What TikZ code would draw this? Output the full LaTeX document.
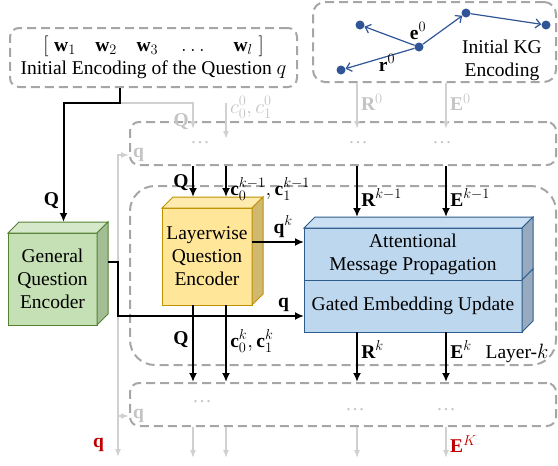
\documentclass[tikz,border=0pt]{standalone}
\usepackage{fontspec}
\setmainfont{Liberation Serif}
\usetikzlibrary{arrows.meta,calc,positioning}

\definecolor{dashgray}{HTML}{A6A6A6}
\definecolor{fadegray}{HTML}{D0D0D0}
\definecolor{fadetext}{HTML}{C4C4C4}
\definecolor{kgblue}{HTML}{2F5597}
\definecolor{frontgreen}{HTML}{C5E0B4}
\definecolor{topgreen}{HTML}{D5E8C9}
\definecolor{sidegreen}{HTML}{A3BE95}
\definecolor{linegreen}{HTML}{548235}
\definecolor{frontyellow}{HTML}{FFE699}
\definecolor{topyellow}{HTML}{FFEBAD}
\definecolor{sideyellow}{HTML}{D1B870}
\definecolor{lineyellow}{HTML}{BF9000}
\definecolor{frontblue}{HTML}{BDD7EE}
\definecolor{topblue}{HTML}{CADFF2}
\definecolor{sideblue}{HTML}{97AAC0}
\definecolor{lineblue}{HTML}{2E5C8A}
\definecolor{darkred}{HTML}{C00000}

\begin{document}
\begin{tikzpicture}[x=1pt, y=-1pt, font=\fontsize{19.5}{23}\selectfont, >={Latex[length=9pt,width=8pt]},
    dash box/.style={draw=dashgray, line width=2pt, dash pattern=on 9pt off 5pt, rounded corners=9pt, inner sep=0pt},
    block/.style={draw, line width=1pt, align=center, inner sep=0pt, outer sep=0pt},
    feed/.style={->, line width=2pt},
    faded/.style={->, draw=fadegray, line width=1.5pt, >={Latex[length=8pt,width=6pt]}},
    kg dot/.style={circle, fill=kgblue, inner sep=0pt, minimum size=9pt},
    kg edge/.style={->, draw=kgblue, line width=1.2pt, >={Straight Barb[length=5pt,width=9pt]}}]

    \useasboundingbox (0,0) rectangle (558,466);

    % inputs
    \node[dash box, minimum width=287pt, minimum height=59pt, align=center] at (153.5,57.5) (qenc)
        {$[\;\mathbf{w}_1\quad\mathbf{w}_2\quad\mathbf{w}_3\quad\dots\quad\;\mathbf{w}_l\;]$\\Initial Encoding of the Question $q$};
    \node[dash box, rounded corners=12pt, minimum width=243pt, minimum height=80pt] at (434.5,42) (kg) {};
    \node[align=center] at (502,60) (kgtext) {Initial KG\\Encoding};

    \node[kg dot] at (360,25) (ea) {};
    \node[kg dot] at (419,47) (ec) {};
    \node[kg dot] at (466,13) (et) {};
    \node[kg dot] at (546,25) (er) {};
    \node[kg dot] at (341,70) (eb) {};
    \path[kg edge] (ec) edge (ea);
    \path[kg edge] (ec) edge (eb);
    \path[kg edge] (ec) edge (et);
    \path[kg edge] (et) edge (er);
    \node at (418,31) (elbl) {$\mathbf{e}^0$};
    \node at (387,63) (rlbl) {$\mathbf{r}^0$};

    % layers
    \node[dash box, minimum width=426pt, minimum height=43pt] at (343,143.5) (prev) {};
    \node[dash box, rounded corners=25pt, minimum width=426pt, minimum height=179pt] at (343,275.5) (layerk) {};
    \node[dash box, minimum width=426pt, minimum height=43pt] at (343,404.5) (next) {};
    \node at (517,353) (layerlbl) {Layer-$k$};

    \node[text=fadetext] at (200,143) (d1) {\dots};
    \node[text=fadetext] at (358,143) (d2) {\dots};
    \node[text=fadetext] at (442,143) (d3) {\dots};
    \node[text=fadetext] at (202,402) (d4) {\dots};
    \node[text=fadetext] at (355,410) (d5) {\dots};
    \node[text=fadetext] at (446,410) (d6) {\dots};

    % encoders
    \node[block, draw=linegreen, fill=frontgreen, minimum width=89pt, minimum height=92pt] at (52.5,279) (gqe) {General\\Question\\Encoder};
    \node[block, draw=lineyellow, fill=frontyellow, minimum width=90pt, minimum height=97pt] at (207,256.5) (lqe) {Layerwise\\Question\\Encoder};
    \node[block, draw=lineblue, fill=frontblue, minimum width=218pt, minimum height=52pt] at (413,254) (amp) {Attentional\\Message Propagation};
    \node[block, draw=lineblue, fill=frontblue, minimum width=218pt, minimum height=52pt] at (413,306) (geu) {Gated Embedding Update};

    \foreach \blk/\col in {gqe/green, lqe/yellow, amp/blue}
        \draw[line width=1pt, draw=line\col, fill=top\col] (\blk.north west) -- ++(11,-11) -- ([shift={(11,-11)}]\blk.north east) -- (\blk.north east) -- cycle;
    \foreach \blk/\col in {gqe/green, lqe/yellow, amp/blue, geu/blue}
        \draw[line width=1pt, draw=line\col, fill=side\col] (\blk.north east) -- ++(11,-11) -- ([shift={(11,-11)}]\blk.south east) -- (\blk.south east) -- cycle;

    \coordinate (colQ) at (193,0);
    \coordinate (colC) at (226,0);
    \coordinate (colR) at (357,0);
    \coordinate (colE) at (446,0);
    \coordinate (qsplit) at (120,103);
    \coordinate (c0src) at (226,103);
    \coordinate (qtop) at (118,155);
    \coordinate (qbus) at (118,316);
    \coordinate (qnext) at (118,416);
    \coordinate (qbot) at (118,457);
    \coordinate (bot) at (0,458);

    % faded connectors
    \draw[faded] (qsplit) -| node[pos=0.85, left, text=fadetext] {$\mathbf{Q}$} ($(prev.north -| colQ)+(0,8)$);
    \draw[faded] (c0src) -- node[pos=0.12, right, text=fadetext] {$c_0^0, c_1^0$} ($(prev.north -| colC)+(0,18)$);
    \draw[faded] (kg.south -| colR) -- node[pos=0.42, right, text=fadetext] {$\mathbf{R}^0$} ($(prev.north -| colR)+(0,8)$);
    \draw[faded] (kg.south -| colE) -- node[pos=0.42, right, text=fadetext] {$\mathbf{E}^0$} ($(prev.north -| colE)+(0,8)$);
    \draw[faded, <->] (qbot) |- node[pos=0.02, left=10pt, text=darkred] {$\mathbf{q}$} (prev.west |- qtop) node[right, text=fadetext] {$\mathbf{q}$};
    \draw[faded] (qnext) -- (next.west |- qnext) node[right, text=fadetext] {$\mathbf{q}$};
    \foreach \cl in {colQ, colC, colR}
        \draw[faded] (next.south -| \cl) -- (\cl |- bot);
    \draw[faded] (next.south -| colE) -- node[pos=0.55, right, text=darkred] {$\mathbf{E}^K$} (colE |- bot);

    % layer-k connectors
    \draw[feed] (qenc.south -| qsplit) -- (qsplit) -| node[pos=0.91, left] {$\mathbf{Q}$} ([shift={(11,-11)}]gqe.north);
    \draw[feed] ($(gqe.east)+(11,-17)$) -| (qbus) -- node[pos=0.89, above] {$\mathbf{q}$} (geu.west |- qbus);
    \draw[feed] ($(lqe.east)+(0,-14.5)$) -- node[pos=0.6, above] {$\mathbf{q}^k$} ($(amp.west)+(0,-12)$);
    \draw[feed] (prev.south -| colQ) -- node[pos=0.55, left] {$\mathbf{Q}$} ($(lqe.north -| colQ)+(0,-11)$);
    \draw[feed] (prev.south -| colC) -- node[pos=0.75, right] {$\mathbf{c}_0^{k-1}, \mathbf{c}_1^{k-1}$} ($(lqe.north -| colC)+(0,-11)$);
    \draw[feed] (prev.south -| colR) -- node[pos=0.62, right] {$\mathbf{R}^{k-1}$} ($(amp.north -| colR)+(0,-11)$);
    \draw[feed] (prev.south -| colE) -- node[pos=0.62, right] {$\mathbf{E}^{k-1}$} ($(amp.north -| colE)+(0,-11)$);
    \draw[feed] (lqe.south -| colQ) -- node[pos=0.45, left] {$\mathbf{Q}$} (next.north -| colQ);
    \draw[feed] (lqe.south -| colC) -- node[pos=0.47, right] {$\mathbf{c}_0^k, \mathbf{c}_1^k$} (next.north -| colC);
    \draw[feed] (geu.south -| colR) -- node[pos=0.35, right] {$\mathbf{R}^k$} (next.north -| colR);
    \draw[feed] (geu.south -| colE) -- node[pos=0.35, right] {$\mathbf{E}^k$} (next.north -| colE);
\end{tikzpicture}
\end{document}
